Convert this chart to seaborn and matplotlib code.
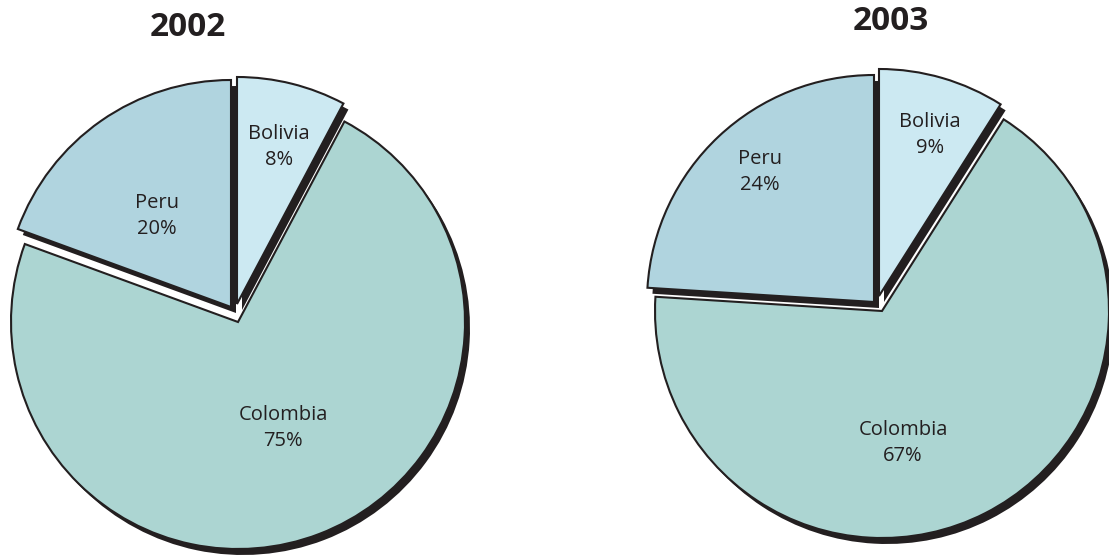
import matplotlib
matplotlib.use("Agg")
import matplotlib.pyplot as plt
import seaborn as sns

# Coca cultivation shares by country
countries = ["Bolivia", "Colombia", "Peru"]
years = ["2002", "2003"]
share_2002 = [8, 75, 20]
share_2003 = [9, 67, 24]
shares = {"2002": share_2002, "2003": share_2003}

sns.set_theme(style="white")
plt.rcParams["font.family"] = ["Open Sans", "DejaVu Sans"]

W, H = 1109, 555
INK = "#231f20"
palette = sns.color_palette(["#cce9f2", "#acd5d2", "#b0d4df"])

# layout in pixel units (y measured from the top)
layout = {
    "2002": dict(center=(238, 322), radius=227, title=(188, 27),
                 shift=[(-1, -18), (0, 0), (-7, -15)],
                 labels=[(279, 147), (283, 428), (157, 216)]),
    "2003": dict(center=(882, 311), radius=227, title=(891, 22),
                 shift=[(-3, -15), (0, 0), (-8, -9)],
                 labels=[(930, 135), (903, 443), (760, 172)]),
}
SHADOW = (5, 6)

fig = plt.figure(figsize=(W / 100, H / 100), dpi=100)
ax = fig.add_axes([0, 0, 1, 1])


def to_data(x, y):
    return x, H - y


for year in years:
    cfg = layout[year]
    vals = shares[year]
    cx, cy = to_data(*cfg["center"])

    # drop shadows
    shadow_wedges, _ = ax.pie(vals, radius=cfg["radius"], center=(cx, cy),
                              startangle=90, counterclock=False,
                              colors=[INK] * len(vals),
                              wedgeprops=dict(linewidth=0), frame=True)
    for w, (dx, dy) in zip(shadow_wedges, cfg["shift"]):
        w.set_center((cx + dx + SHADOW[0], cy - dy - SHADOW[1]))
        w.set_zorder(1)

    # slices
    wedges, _ = ax.pie(vals, radius=cfg["radius"], center=(cx, cy),
                       startangle=90, counterclock=False, colors=palette,
                       wedgeprops=dict(edgecolor=INK, linewidth=1.5),
                       frame=True)
    for w, (dx, dy) in zip(wedges, cfg["shift"]):
        w.set_center((cx + dx, cy - dy))
        w.set_zorder(2)

    for name, v, (lx, ly) in zip(countries, vals, cfg["labels"]):
        tx, ty = to_data(lx, ly)
        ax.text(tx, ty, f"{name}\n{v}%", ha="center", va="center",
                fontsize=14.5, color=INK, linespacing=1.4, zorder=3)

    tx, ty = to_data(*cfg["title"])
    ax.text(tx, ty, year, ha="center", va="center", fontsize=24,
            fontweight="bold", color=INK, zorder=3)

ax.set_xlim(0, W)
ax.set_ylim(0, H)
ax.set_aspect("auto")
ax.axis("off")

fig.savefig("out.png", dpi=100, facecolor="white")
